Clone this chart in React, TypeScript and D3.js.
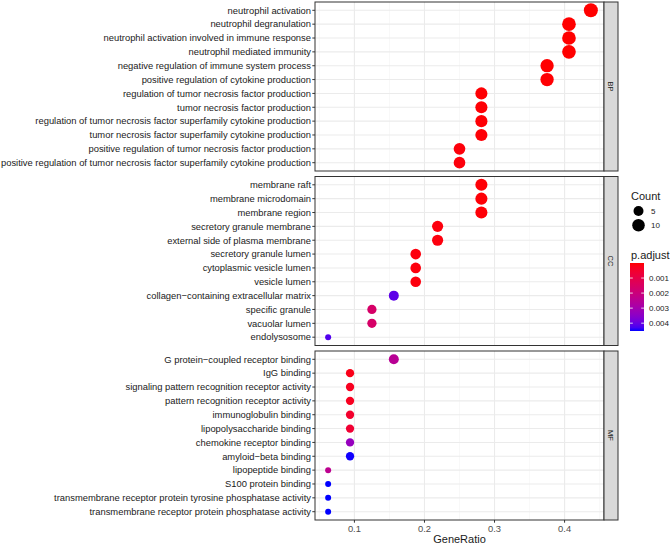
import React from "react";
import * as d3 from "d3";

const ontologies = ["BP", "CC", "MF"];

const bpTerms = [
  "neutrophil activation",
  "neutrophil degranulation",
  "neutrophil activation involved in immune response",
  "neutrophil mediated immunity",
  "negative regulation of immune system process",
  "positive regulation of cytokine production",
  "regulation of tumor necrosis factor production",
  "tumor necrosis factor production",
  "regulation of tumor necrosis factor superfamily cytokine production",
  "tumor necrosis factor superfamily cytokine production",
  "positive regulation of tumor necrosis factor production",
  "positive regulation of tumor necrosis factor superfamily cytokine production",
];
const bpRatio = [0.4375, 0.40625, 0.40625, 0.40625, 0.375, 0.375, 0.28125, 0.28125, 0.28125, 0.28125, 0.25, 0.25];
const bpCount = [14, 13, 13, 13, 12, 12, 9, 9, 9, 9, 8, 8];
const bpPadj = [1e-7, 2e-7, 2e-7, 2e-7, 5e-6, 2e-5, 3e-5, 4e-5, 4e-5, 5e-5, 8e-5, 9e-5];

const ccTerms = [
  "membrane raft",
  "membrane microdomain",
  "membrane region",
  "secretory granule membrane",
  "external side of plasma membrane",
  "secretory granule lumen",
  "cytoplasmic vesicle lumen",
  "vesicle lumen",
  "collagen\u2212containing extracellular matrix",
  "specific granule",
  "vacuolar lumen",
  "endolysosome",
];
const ccRatio = [0.28125, 0.28125, 0.28125, 0.21875, 0.21875, 0.1875, 0.1875, 0.1875, 0.15625, 0.125, 0.125, 0.0625];
const ccCount = [9, 9, 9, 7, 7, 6, 6, 6, 5, 4, 4, 2];
const ccPadj = [5e-5, 5e-5, 5e-5, 1e-4, 1e-4, 1e-4, 1e-4, 1e-4, 0.0041, 0.0016, 0.0016, 0.0042];

const mfTerms = [
  "G protein\u2212coupled receptor binding",
  "IgG binding",
  "signaling pattern recognition receptor activity",
  "pattern recognition receptor activity",
  "immunoglobulin binding",
  "lipopolysaccharide binding",
  "chemokine receptor binding",
  "amyloid\u2212beta binding",
  "lipopeptide binding",
  "S100 protein binding",
  "transmembrane receptor protein tyrosine phosphatase activity",
  "transmembrane receptor protein phosphatase activity",
];
const mfRatio = [0.15625, 0.09375, 0.09375, 0.09375, 0.09375, 0.09375, 0.09375, 0.09375, 0.0625, 0.0625, 0.0625, 0.0625];
const mfCount = [5, 3, 3, 3, 3, 3, 3, 3, 2, 2, 2, 2];
const mfPadj = [0.0025, 0.0002, 0.0003, 0.0003, 0.0005, 0.0006, 0.0033, 0.0045, 0.0024, 0.00452, 0.00452, 0.00452];

const xTicks = [0.1, 0.2, 0.3, 0.4];
const xMinor = [0.05, 0.15, 0.25, 0.35, 0.45];
const sizeLegend = [5, 10];
const colorLegend = [0.001, 0.002, 0.003, 0.004];

const facets = [
  { name: ontologies[0], terms: bpTerms, ratio: bpRatio, count: bpCount, padj: bpPadj },
  { name: ontologies[1], terms: ccTerms, ratio: ccRatio, count: ccCount, padj: ccPadj },
  { name: ontologies[2], terms: mfTerms, ratio: mfRatio, count: mfCount, padj: mfPadj },
];

const FONT = "'Liberation Sans', Arial, sans-serif";

export default function App() {
  const W = 670, H = 546;
  const panelL = 315, panelR = 604;
  const stripW = 14;
  const panelTop = 2, panelH = 169, gap = 5.5;

  const allRatio = [...bpRatio, ...ccRatio, ...mfRatio];
  const allCount = [...bpCount, ...ccCount, ...mfCount];
  const allPadj = [...bpPadj, ...ccPadj, ...mfPadj];
  const [rMin, rMax] = d3.extent(allRatio) as [number, number];
  const ex = (rMax - rMin) * 0.05;
  const x = d3.scaleLinear().domain([rMin - ex, rMax + ex]).range([panelL, panelR]);

  const [cMin, cMax] = d3.extent(allCount) as [number, number];
  const sizeT = d3.scaleLinear().domain([cMin, cMax]).range([0, 1]).clamp(true);
  const rScale = d3.scaleLinear().domain([0, 1]).range([3, 7]);
  const radius = (c: number) => rScale(Math.sqrt(sizeT(c)));

  const [pMin, pMax] = d3.extent(allPadj) as [number, number];
  const color = d3.scaleLinear<string>().domain([pMin, pMax]).range(["#FF0000", "#0000FF"]).interpolate(d3.interpolateLab);

  const cbTop = 263, cbBot = 331, cbL = 630, cbR = 644;
  const cbY = d3.scaleLinear().domain([pMin, pMax]).range([cbTop, cbBot]);
  const stops = d3.range(0, 1.0001, 0.05);

  return (
    <svg width={W} height={H} style={{ position: "absolute", left: 0, top: 0, background: "#fff" }} fontFamily={FONT}>
      <defs>
        <linearGradient id="cb" x1="0" y1="0" x2="0" y2="1">
          {stops.map((t) => (
            <stop key={t} offset={`${t * 100}%`} stopColor={color(pMin + t * (pMax - pMin))} />
          ))}
        </linearGradient>
      </defs>
      <rect x={0} y={0} width={W} height={H} fill="#fff" />
      {facets.map((f, fi) => {
        const top = panelTop + fi * (panelH + gap);
        const y = d3.scalePoint<string>().domain(f.terms).range([top, top + panelH]).padding(0.6);
        return (
          <g key={f.name}>
            <rect x={panelL} y={top} width={panelR - panelL} height={panelH} fill="#fff" />
            {xMinor.map((v) => (
              <line key={"mi" + v} x1={x(v)} x2={x(v)} y1={top} y2={top + panelH} stroke="#F3F3F3" strokeWidth={0.6} />
            ))}
            {xTicks.map((v) => (
              <line key={"ma" + v} x1={x(v)} x2={x(v)} y1={top} y2={top + panelH} stroke="#EBEBEB" strokeWidth={1.1} />
            ))}
            {f.terms.map((t) => (
              <line key={"h" + t} x1={panelL} x2={panelR} y1={y(t)} y2={y(t)} stroke="#EBEBEB" strokeWidth={1.1} />
            ))}
            {f.terms.map((t, i) => (
              <circle key={"c" + t} cx={x(f.ratio[i])} cy={y(t)!} r={radius(f.count[i])} fill={color(f.padj[i])} />
            ))}
            <rect x={panelL} y={top} width={panelR - panelL} height={panelH} fill="none" stroke="#333333" strokeWidth={1} />
            {f.terms.map((t) => (
              <g key={"l" + t}>
                <line x1={panelL - 2.7} x2={panelL} y1={y(t)} y2={y(t)} stroke="#333333" strokeWidth={1} />
                <text x={panelL - 4} y={y(t)} dy="0.35em" textAnchor="end" fontSize={9.4} fill="#1A1A1A">{t}</text>
              </g>
            ))}
            <rect x={panelR} y={top} width={stripW} height={panelH} fill="#D9D9D9" stroke="#333333" strokeWidth={1} />
            <text transform={`translate(${panelR + stripW / 2},${top + panelH / 2}) rotate(90)`} textAnchor="middle" dy="0.35em" fontSize={7.5} fill="#1A1A1A">{f.name}</text>
          </g>
        );
      })}
      {(() => {
        const bottom = panelTop + 2 * (panelH + gap) + panelH;
        return (
          <g>
            {xTicks.map((v) => (
              <g key={"xt" + v}>
                <line x1={x(v)} x2={x(v)} y1={bottom} y2={bottom + 2.7} stroke="#333333" strokeWidth={1} />
                <text x={x(v)} y={bottom + 9} dy="0.35em" textAnchor="middle" fontSize={9.4} fill="#4D4D4D">{v}</text>
              </g>
            ))}
            <text x={(panelL + panelR) / 2} y={bottom + 19.5} dy="0.35em" textAnchor="middle" fontSize={11} fill="#1A1A1A">GeneRatio</text>
          </g>
        );
      })()}
      <g>
        <text x={631} y={196} dy="0.35em" fontSize={11} fill="#1A1A1A">Count</text>
        {sizeLegend.map((c, i) => (
          <g key={"sl" + c}>
            <circle cx={638.5} cy={211 + i * 14.3} r={radius(c)} fill="#000" />
            <text x={651} y={211 + i * 14.3} dy="0.35em" fontSize={8} fill="#1A1A1A">{c}</text>
          </g>
        ))}
        <text x={631} y={255} dy="0.35em" fontSize={11} fill="#1A1A1A">p.adjust</text>
        <rect x={cbL} y={cbTop} width={cbR - cbL} height={cbBot - cbTop} fill="url(#cb)" />
        {colorLegend.map((v) => (
          <g key={"cl" + v}>
            <line x1={cbL} x2={cbL + 2.8} y1={cbY(v)} y2={cbY(v)} stroke="#fff" strokeWidth={0.8} />
            <line x1={cbR - 2.8} x2={cbR} y1={cbY(v)} y2={cbY(v)} stroke="#fff" strokeWidth={0.8} />
            <text x={649} y={cbY(v)} dy="0.35em" fontSize={8} fill="#1A1A1A">{v.toFixed(3)}</text>
          </g>
        ))}
      </g>
    </svg>
  );
}
